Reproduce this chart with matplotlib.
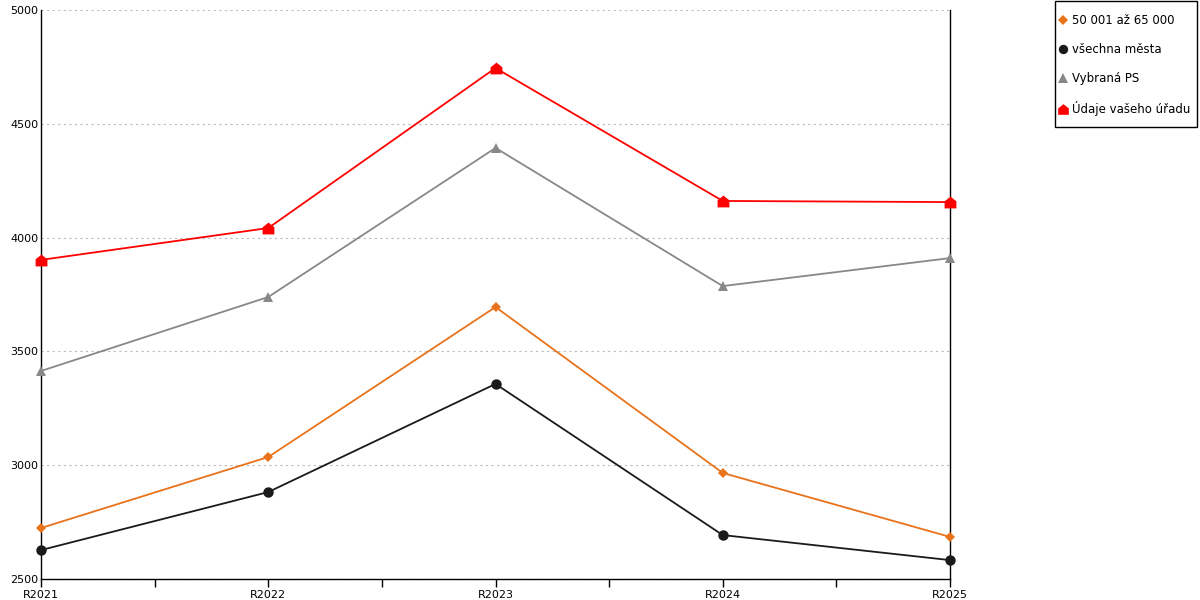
import matplotlib
matplotlib.use("Agg")
from matplotlib import pyplot as plt
from matplotlib.path import Path
from matplotlib.lines import Line2D
from matplotlib.patches import Rectangle

# data
roky = ["R2021", "R2022", "R2023", "R2024", "R2025"]
mesta_50_65 = [2724, 3036, 3695, 2966, 2685]
vsechna_mesta = [2627, 2882, 3357, 2693, 2583]
vybrana_ps = [3414, 3739, 4394, 3787, 3910]
vas_urad = [3902, 4042, 4745, 4161, 4156]

# house shaped marker
house = Path([(-1, -1), (1, -1), (1, 0.2), (0, 1), (-1, 0.2), (-1, -1)],
             [Path.MOVETO, Path.LINETO, Path.LINETO, Path.LINETO, Path.LINETO, Path.CLOSEPOLY])

plt.rcParams['font.family'] = ['DejaVu Sans']
fig = plt.figure(figsize=(12, 6), dpi=100)
ax = fig.add_axes([41 / 1200, 1 - 579 / 600, (950 - 41) / 1200, (579 - 10) / 600])

x = list(range(len(roky)))
serie = [
    (mesta_50_65, "#e8731a", "D", 5.5, "50 001 až 65 000"),
    (vsechna_mesta, "#1a1a1a", "o", 7.5, "všechna města"),
    (vybrana_ps, "#888888", "^", 7.5, "Vybraná PS"),
    (vas_urad, "#ff0000", house, 8.5, "Údaje vašeho úřadu"),
]
for vals, col, mk, ms, lab in serie:
    ax.plot(x, vals, color=col, lw=1.3, marker=mk, markersize=ms,
            markeredgewidth=0, clip_on=False, zorder=3)

ax.set_xlim(0, 4)
ax.set_ylim(2500, 5000)
ax.set_yticks([2500, 3000, 3500, 4000, 4500, 5000])
ax.set_xticks(x)
ax.set_xticklabels(roky)
ax.set_xticks([0.5, 1.5, 2.5, 3.5], minor=True)
ax.tick_params(axis='x', which='both', direction='out', length=6, width=1, labelsize=8, pad=2)
ax.tick_params(axis='y', length=0, labelsize=8, pad=2)
ax.grid(axis='y', color='#bbbbbb', linestyle=(0, (2, 3)), linewidth=0.8)
ax.spines['top'].set_visible(False)
for s in ['left', 'right', 'bottom']:
    ax.spines[s].set_color('black')
    ax.spines[s].set_linewidth(1)

# legenda bez ramecku, ramecek kreslime zvlast
handles = [Line2D([], [], color=col, marker=mk, markersize=ms * 0.9, linestyle='none', markeredgewidth=0)
           for _, col, mk, ms, _ in serie]
labels = [s[4] for s in serie]
fig.legend(handles, labels, loc='upper left', bbox_to_anchor=(1060 / 1200, 1 - 14 / 600),
           fontsize=8.5, frameon=False, handlelength=0.5, handletextpad=0.5,
           labelspacing=1.36, borderpad=0, borderaxespad=0)
fig.add_artist(Rectangle((1055 / 1200, 1 - 127 / 600), 142 / 1200, 126 / 600,
                         transform=fig.transFigure, facecolor='none', edgecolor='black', lw=1))

fig.savefig("out.png", dpi=100)
